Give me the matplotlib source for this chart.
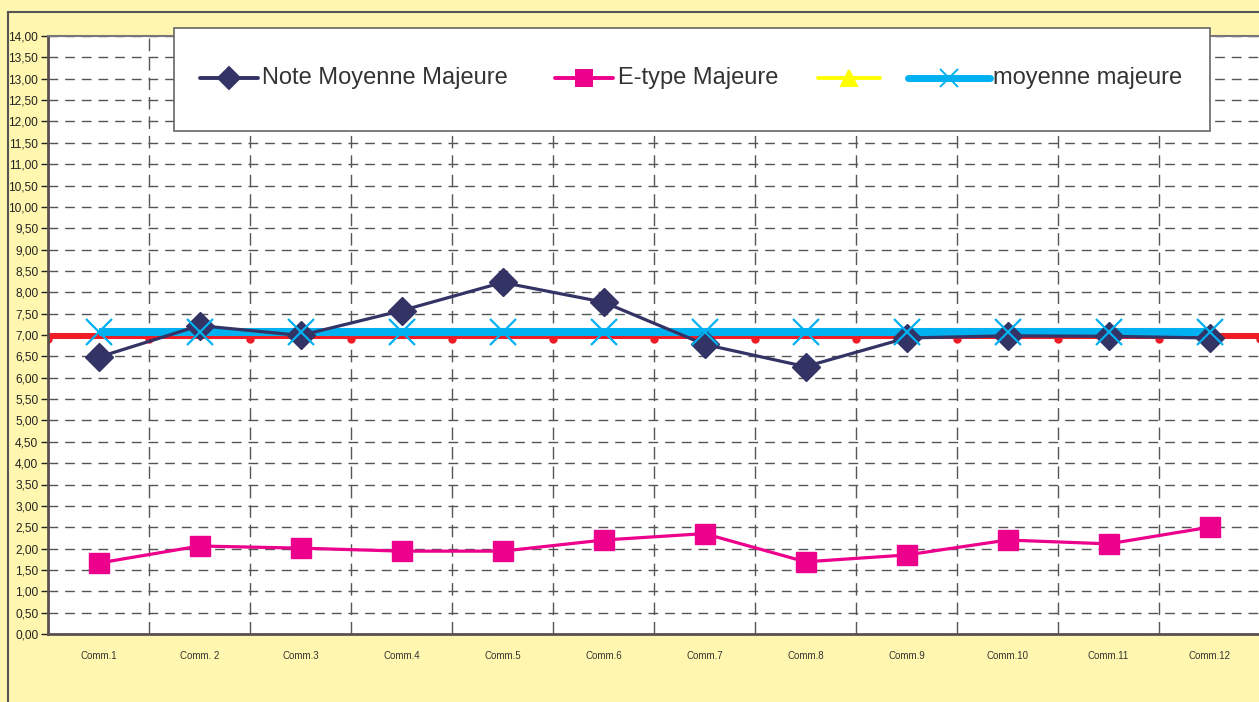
import matplotlib
matplotlib.use("Agg")
import matplotlib.pyplot as plt
from matplotlib.lines import Line2D
from matplotlib.patches import Rectangle
from matplotlib.ticker import MultipleLocator, FuncFormatter

plt.rcParams['font.family'] = ['Liberation Sans', 'DejaVu Sans']

# ---------------- Données ----------------
categories = ["Comm.1", "Comm. 2", "Comm.3", "Comm.4", "Comm.5", "Comm.6",
              "Comm.7", "Comm.8", "Comm.9", "Comm.10", "Comm.11", "Comm.12"]
note_moyenne = [6.48, 7.22, 6.99, 7.57, 8.23, 7.77, 6.78, 6.26, 6.93, 6.98, 6.97, 6.93]
ecart_type = [1.66, 2.06, 2.01, 1.94, 1.94, 2.20, 2.35, 1.69, 1.85, 2.20, 2.11, 2.50]
moyenne_majeure = [7.08] * 12
seuil = [6.97] * 13          # ligne rouge, sur les séparations
seuil_x = [i + 0.5 for i in range(13)]

fond = "#FFF7AF"
navy = "#333366"
magenta = "#EC008C"
cyan = "#00B0F0"
rouge = "#EE1C25"
jaune = "#FFFF00"

W, H = 1259, 702
fig = plt.figure(figsize=(W / 100, H / 100), dpi=100)
fig.patch.set_facecolor(fond)

def px(x, y):
    return x / W, 1 - y / H

# cadre extérieur
fig.add_artist(Line2D([8 / W, 8 / W], [0, 1 - 12 / H], transform=fig.transFigure,
                      color="#555555", lw=1.5))
fig.add_artist(Line2D([8 / W, 1], [1 - 12 / H, 1 - 12 / H], transform=fig.transFigure,
                      color="#555555", lw=1.5))

ax = fig.add_axes([48 / W, 1 - 634 / H, 1212 / W, 598 / H])
ax.set_facecolor("white")

x = list(range(1, 13))
ax.plot(seuil_x, seuil, color=rouge, lw=4.3, zorder=2)
ax.plot(seuil_x, [v - 0.06 for v in seuil], ls="none", marker="o", ms=5,
        color=rouge, zorder=2)
ax.plot(x, moyenne_majeure, color=cyan, lw=5.8, zorder=3, solid_capstyle="butt")
ax.plot(x, note_moyenne, color=navy, lw=2.3, marker="D", ms=14, zorder=4)
ax.plot(x, ecart_type, color=magenta, lw=2.3, marker="s", ms=14, zorder=4)
ax.plot(x, moyenne_majeure, ls="none", marker="x", ms=19, mew=1.6,
        color=cyan, zorder=5)

ax.set_xlim(0.5, 12.5)
ax.set_ylim(0, 14)
ax.set_xticks(x)
ax.set_xticklabels(categories, fontsize=7, color="#333333")
ax.set_xticks([i + 0.5 for i in range(12)], minor=True)
ax.tick_params(axis="x", which="major", length=0, pad=12)
ax.tick_params(axis="x", which="minor", length=0)
ax.yaxis.set_major_locator(MultipleLocator(0.5))
ax.yaxis.set_major_formatter(FuncFormatter(lambda v, p: f"{v:.2f}".replace(".", ",")))
ax.tick_params(axis="y", labelsize=8.6, colors="#222222", length=5, width=1, pad=2)

ax.grid(True, which="major", axis="y", color="#555555", lw=1, ls=(0, (7, 5)))
ax.grid(True, which="minor", axis="x", color="#555555", lw=1, ls=(0, (9, 5)))
ax.set_axisbelow(True)

for s in ["left", "bottom"]:
    ax.spines[s].set_color("#5a5050")
    ax.spines[s].set_linewidth(2)
ax.spines["top"].set_color("#777777")
ax.spines["top"].set_linewidth(1.5)
ax.spines["right"].set_visible(False)

# ---------------- Légende ----------------
x0, y0 = px(174, 131)
x1, y1 = px(1210, 28)
fig.add_artist(Rectangle((x0, y0), x1 - x0, y1 - y0, transform=fig.transFigure,
                         facecolor="white", edgecolor="#666666", lw=1.2, zorder=10))

ly = 1 - 78 / H
entrees = [
    (200, 258, navy, 2.8, "D", 11, navy, "Note Moyenne Majeure", 262),
    (555, 613, magenta, 2.8, "s", 11, magenta, "E-type Majeure", 618),
    (818, 880, jaune, 2.8, "^", 11, jaune, "", 884),
    (908, 990, cyan, 5, "x", 13, cyan, "moyenne majeure", 993),
]
for a, b, c, lw, m, ms, mc, lab, tx in entrees:
    fig.add_artist(Line2D([a / W, b / W], [ly, ly], transform=fig.transFigure,
                          color=c, lw=lw, solid_capstyle="round", zorder=11))
    fig.add_artist(Line2D([(a + b) / 2 / W], [ly], transform=fig.transFigure,
                          marker=m, ms=ms, color=mc, mew=1.4, zorder=12))
    if lab:
        fig.text(tx / W, ly, lab, fontsize=17, color="#333333",
                 va="center", ha="left", zorder=12)

fig.savefig("out.png", dpi=100, facecolor=fond)
